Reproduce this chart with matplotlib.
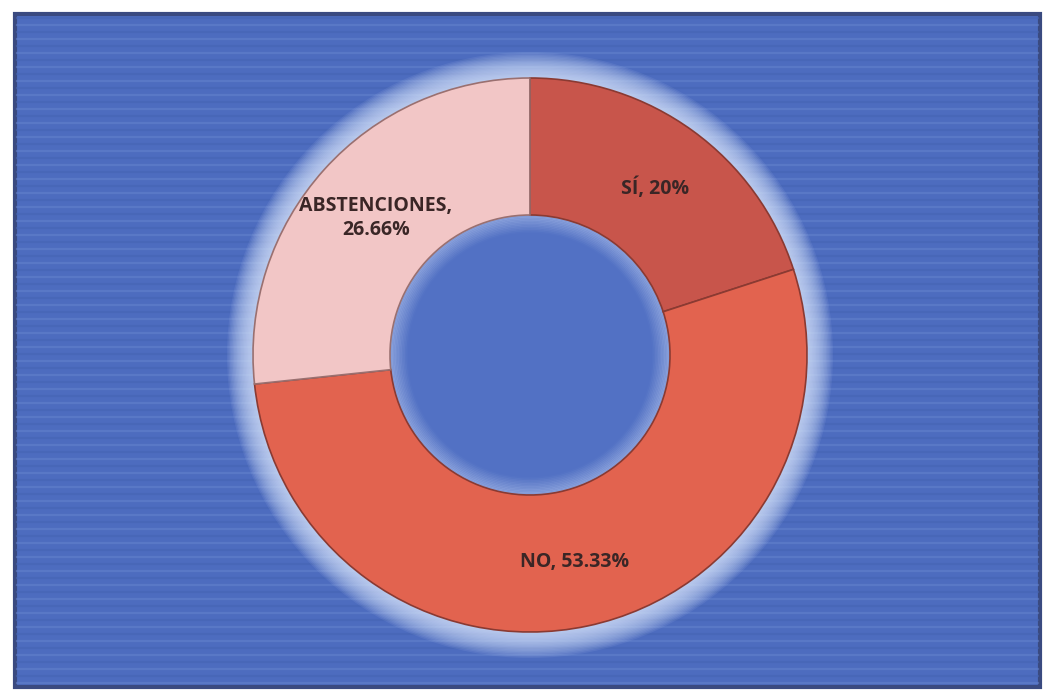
import numpy as np
import matplotlib.pyplot as plt
from matplotlib.patches import Circle, Rectangle

labels = ["SÍ", "NO", "ABSTENCIONES"]
values = [20.0, 53.33, 26.66]
pct_text = ["20%", "53.33%", "26.66%"]
colors = ["#c8554b", "#e2634f", "#f2c6c6"]

W, H = 1050, 699
fig = plt.figure(figsize=(W / 100, H / 100), dpi=100)
ax = fig.add_axes([0, 0, 1, 1])
ax.set_xlim(0, W)
ax.set_ylim(0, H)
ax.set_aspect("equal")
ax.axis("off")

# white page + blue panel
fig.patch.set_facecolor("white")
ax.add_patch(Rectangle((15, 12), 1025, 673, facecolor="#4d6cbf", edgecolor="#3a4a80", lw=3, zorder=0))
# horizontal stripes
for i, y in enumerate(np.arange(16, 684, 7)):
    c = "#6482cc" if i % 2 == 0 else "#4564b3"
    ax.plot([17, 1038], [y, y], color=c, lw=1.6, alpha=0.55, zorder=1)

cx, cy = 530, H - 355
R, r = 277, 140

# glow around the ring
for k in range(20):
    rad = R + 26 - k * 1.4
    ax.add_patch(Circle((cx, cy), rad, facecolor="#dbe8ff", edgecolor="none", alpha=0.08, zorder=2))
ax.add_patch(Circle((cx, cy), r, facecolor="#5271c4", edgecolor="none", zorder=2.5))
for k in range(12):
    ax.add_patch(Circle((cx, cy), r - k * 1.5, facecolor="none", edgecolor="#dce8ff",
                        lw=2, alpha=0.25 * (1 - k / 12), zorder=2.6))

fracs = [v / 100 for v in values]
wedges, _ = ax.pie(fracs, colors=colors, radius=R, center=(cx, cy), startangle=90,
                   counterclock=False, normalize=False, frame=True,
                   wedgeprops=dict(width=R - r, edgecolor="#8a3a32", linewidth=1.2))
for w in wedges:
    w.set_zorder(3)
wedges[2].set_edgecolor("#9a7070")
ax.set_xlim(0, W)
ax.set_ylim(0, H)
ax.axis("off")

txt = dict(fontsize=14, fontweight="bold", color="#3a2626", family=["Open Sans", "DejaVu Sans"],
           ha="center", va="center", zorder=5)
ax.text(655, H - 188, f"{labels[0]}, {pct_text[0]}", **txt)
ax.text(575, H - 562, f"{labels[1]}, {pct_text[1]}", **txt)
ax.text(376, H - 218, f"{labels[2]},\n{pct_text[2]}", linespacing=1.25, **txt)

fig.savefig("out.png", dpi=100, facecolor="white")
